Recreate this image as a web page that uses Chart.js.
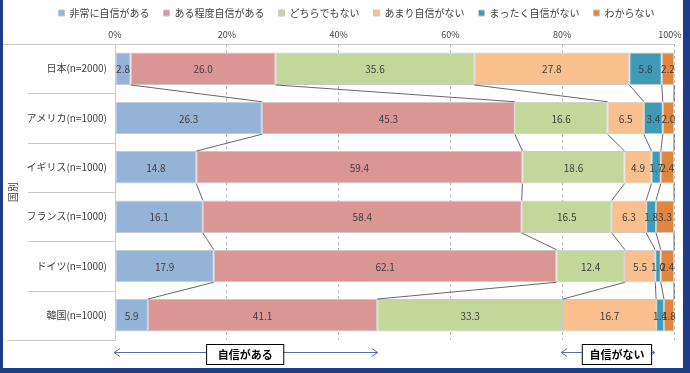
<!DOCTYPE html>
<html><head><meta charset="utf-8">
<script src="https://cdn.jsdelivr.net/npm/chart.js@4.4.0/dist/chart.umd.min.js"></script>
<style>
html,body{margin:0;padding:0;background:#fff;}
#frame{position:absolute;left:0;top:0;width:690px;height:373px;box-sizing:border-box;border-left:3px solid #1F3C88;border-right:7px solid #1F3C88;border-bottom:5px solid #1F3C88;background:#fff;}
#wrap{position:relative;width:680px;height:368px;}
</style></head>
<body>
<div id="frame"><div id="wrap"><canvas id="c"></canvas></div></div>
<script>
const categories = ['日本(n=2000)','アメリカ(n=1000)','イギリス(n=1000)','フランス(n=1000)','ドイツ(n=1000)','韓国(n=1000)'];
const seriesNames = ['非常に自信がある','ある程度自信がある','どちらでもない','あまり自信がない','まったく自信がない','わからない'];
const verySure   = [2.8, 26.3, 14.8, 16.1, 17.9, 5.9];
const fairlySure = [26.0, 45.3, 59.4, 58.4, 62.1, 41.1];
const neither    = [35.6, 16.6, 18.6, 16.5, 12.4, 33.3];
const notVery    = [27.8, 6.5, 4.9, 6.3, 5.5, 16.7];
const notAtAll   = [5.8, 3.4, 1.7, 1.8, 1.0, 1.4];
const dontKnow   = [2.2, 2.0, 2.4, 3.3, 2.4, 1.8];
const xTicks = [0, 20, 40, 60, 80, 100];
const colors = ['#95B3D7','#DA9694','#C4D79B','#FABF8F','#3F9AB6','#E0863F'];

const raw = [verySure, fairlySure, neither, notVery, notAtAll, dontKnow];
const sums = categories.map((_, i) => raw.reduce((a, s) => a + s[i], 0));
const datasets = raw.map((s, j) => ({
  label: seriesNames[j],
  data: s.map((v, i) => v / sums[i] * 100),
  rawData: s,
  backgroundColor: colors[j],
  borderColor: '#c9c9c9',
  borderWidth: 1,
  borderSkipped: false,
  barPercentage: 0.66,
  categoryPercentage: 1.0
}));

const FONT = '"Noto Sans CJK JP", "DejaVu Sans", sans-serif';
const lastTick = xTicks[xTicks.length - 1];

const decor = {
  id: 'decor',
  afterLayout(chart) {
    const l = chart.legend;
    if (l) { l.left += 18; l.right += 18; }
  },
  beforeDatasetsDraw(chart) {
    const ctx = chart.ctx;
    const a = chart.chartArea;
    ctx.save();
    ctx.strokeStyle = '#c8c8c8';
    ctx.lineWidth = 1;
    ctx.beginPath(); ctx.moveTo(0, a.top + 0.5); ctx.lineTo(a.right, a.top + 0.5); ctx.stroke();
    const n = categories.length;
    const step = (a.bottom - a.top) / n;
    for (let k = 1; k <= n; k++) {
      const yy = Math.round(a.top + step * k) + 0.5;
      ctx.beginPath(); ctx.moveTo(k === n ? 4 : 25, yy); ctx.lineTo(a.left, yy); ctx.stroke();
    }
    ctx.restore();
  },
  afterDatasetsDraw(chart) {
    const ctx = chart.ctx;
    ctx.save();
    ctx.strokeStyle = '#404040';
    ctx.lineWidth = 0.8;
    chart.data.datasets.forEach((ds, j) => {
      const meta = chart.getDatasetMeta(j);
      for (let i = 0; i < meta.data.length - 1; i++) {
        const e1 = meta.data[i], e2 = meta.data[i + 1];
        ctx.beginPath();
        ctx.moveTo(e1.x, e1.y + e1.height / 2);
        ctx.lineTo(e2.x, e2.y - e2.height / 2);
        ctx.stroke();
      }
    });
    ctx.fillStyle = '#404040';
    ctx.font = '10px ' + FONT;
    ctx.textAlign = 'center';
    ctx.textBaseline = 'middle';
    chart.data.datasets.forEach((ds, j) => {
      const meta = chart.getDatasetMeta(j);
      meta.data.forEach((el, i) => {
        ctx.fillText(ds.rawData[i].toFixed(1), (el.x + el.base) / 2, el.y + 1);
      });
    });
    ctx.restore();
  },
  afterDraw(chart) {
    const ctx = chart.ctx, x = chart.scales.x;
    // last x tick label, nudged inside like the original
    ctx.save();
    ctx.fillStyle = '#404040';
    ctx.font = '9px ' + FONT;
    ctx.textAlign = 'center';
    ctx.textBaseline = 'middle';
    const tickTicks = x.ticks;
    ctx.fillText(lastTick + '%', x.getPixelForValue(lastTick) - 4, chart.chartArea.top - 9);
    ctx.restore();

    const yy = 352.5;
    function arrow(v1, v2, bx1, bx2, label) {
      const x1 = x.getPixelForValue(v1) - 1, x2 = x.getPixelForValue(v2);
      ctx.save();
      ctx.strokeStyle = '#5A6AA8';
      ctx.lineWidth = 1;
      ctx.beginPath(); ctx.moveTo(x1, yy); ctx.lineTo(x2, yy); ctx.stroke();
      ctx.beginPath(); ctx.moveTo(x1 + 6, yy - 4); ctx.lineTo(x1, yy); ctx.lineTo(x1 + 6, yy + 4); ctx.stroke();
      ctx.beginPath(); ctx.moveTo(x2 - 6, yy - 4); ctx.lineTo(x2, yy); ctx.lineTo(x2 - 6, yy + 4); ctx.stroke();
      const l = x.getPixelForValue(bx1), r = x.getPixelForValue(bx2);
      ctx.fillStyle = '#fff';
      ctx.fillRect(l, 344, r - l, 20);
      ctx.strokeStyle = '#000';
      ctx.strokeRect(l + 0.5, 344.5, r - l, 20);
      ctx.fillStyle = '#000';
      ctx.font = 'bold 11px ' + FONT;
      ctx.textAlign = 'center';
      ctx.textBaseline = 'middle';
      ctx.fillText(label, (l + r) / 2 + 0.5, 355);
      ctx.restore();
    }
    arrow(0, 47, 16.3, 30.1, '自信がある');
    arrow(80, 96.6, 83.5, 95.9, '自信がない');
  }
};

new Chart(document.getElementById('c'), {
  type: 'bar',
  data: { labels: categories, datasets },
  options: {
    indexAxis: 'y',
    responsive: true,
    maintainAspectRatio: false,
    animation: false,
    layout: { padding: { left: 0, right: 9, top: -6, bottom: 28 } },
    plugins: {
      legend: {
        position: 'top',
        labels: { boxWidth: 6, boxHeight: 6, padding: 14, color: '#404040', font: { size: 10, family: FONT } }
      },
      tooltip: { enabled: false }
    },
    scales: {
      x: {
        position: 'top',
        stacked: true,
        min: 0, max: 100,
        afterBuildTicks(s) { s.ticks = xTicks.map(v => ({ value: v })); },
        afterFit(s) { s.height = 16; s.paddingLeft = 0; s.paddingRight = 0; },
        ticks: {
          callback: v => v + '%',
          color: c => (c.tick && c.tick.value === lastTick) ? 'rgba(0,0,0,0)' : '#404040',
          font: { size: 9, family: FONT }, padding: 4
        },
        grid: { color: ctx => ctx.tick && ctx.tick.value === 0 ? 'rgba(0,0,0,0)' : '#bdbdbd', drawTicks: false },
        border: { display: false, dash: [3, 3] }
      },
      y: {
        stacked: true,
        afterFit(s) { s.width = 112; },
        ticks: { color: '#404040', font: { size: 10, family: FONT }, padding: 0 },
        grid: { display: false },
        border: { display: true, color: '#c8c8c8' },
        title: { display: true, text: '国別', color: '#404040', font: { size: 10, family: FONT }, padding: { top: 4, bottom: 0 } }
      }
    }
  },
  plugins: [decor]
});
</script>
</body></html>
